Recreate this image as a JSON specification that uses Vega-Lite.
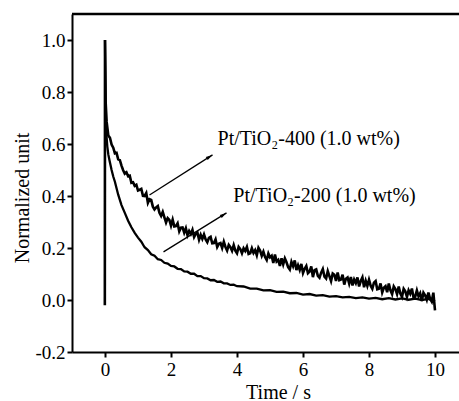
{
  "$schema": "https://vega.github.io/schema/vega-lite/v6.json",
  "width": 387,
  "height": 338,
  "autosize": {"type": "none"},
  "padding": {"left": 72, "top": 14, "right": 0, "bottom": 49},
  "background": "white",
  "config": {
    "font": "Liberation Serif",
    "view": {"stroke": null},
    "axis": {"labelColor": "black", "tickColor": "black", "domainColor": "black", "titleColor": "black", "grid": false, "labelFont": "Liberation Serif", "titleFont": "Liberation Serif", "titleFontWeight": "normal"}
  },
  "datasets": {
    "s400": [
      {"t": -0.005, "v": -0.02}, {"t": 0, "v": 1.0}, {"t": 0.02, "v": 0.76},
      {"t": 0.05, "v": 0.685}, {"t": 0.10, "v": 0.633}, {"t": 0.15, "v": 0.624}, {"t": 0.20, "v": 0.598}, {"t": 0.25, "v": 0.586},
      {"t": 0.30, "v": 0.564}, {"t": 0.35, "v": 0.566}, {"t": 0.40, "v": 0.541}, {"t": 0.45, "v": 0.538}, {"t": 0.50, "v": 0.517},
      {"t": 0.55, "v": 0.499}, {"t": 0.60, "v": 0.486}, {"t": 0.65, "v": 0.491}, {"t": 0.70, "v": 0.476}, {"t": 0.75, "v": 0.478},
      {"t": 0.80, "v": 0.451}, {"t": 0.85, "v": 0.453}, {"t": 0.90, "v": 0.439}, {"t": 0.95, "v": 0.443}, {"t": 1.00, "v": 0.421},
      {"t": 1.05, "v": 0.424}, {"t": 1.10, "v": 0.427}, {"t": 1.15, "v": 0.401}, {"t": 1.20, "v": 0.40}, {"t": 1.25, "v": 0.411},
      {"t": 1.30, "v": 0.374}, {"t": 1.35, "v": 0.388}, {"t": 1.40, "v": 0.385}, {"t": 1.45, "v": 0.359}, {"t": 1.50, "v": 0.348},
      {"t": 1.55, "v": 0.356}, {"t": 1.60, "v": 0.361}, {"t": 1.65, "v": 0.335}, {"t": 1.70, "v": 0.323}, {"t": 1.75, "v": 0.339},
      {"t": 1.80, "v": 0.318}, {"t": 1.85, "v": 0.298}, {"t": 1.90, "v": 0.315}, {"t": 1.95, "v": 0.308}, {"t": 2.00, "v": 0.286},
      {"t": 2.05, "v": 0.309}, {"t": 2.10, "v": 0.283}, {"t": 2.15, "v": 0.284}, {"t": 2.20, "v": 0.295}, {"t": 2.25, "v": 0.264},
      {"t": 2.30, "v": 0.278}, {"t": 2.35, "v": 0.279}, {"t": 2.40, "v": 0.259}, {"t": 2.45, "v": 0.276}, {"t": 2.50, "v": 0.249},
      {"t": 2.55, "v": 0.265}, {"t": 2.60, "v": 0.254}, {"t": 2.65, "v": 0.27}, {"t": 2.70, "v": 0.242}, {"t": 2.75, "v": 0.254},
      {"t": 2.80, "v": 0.26}, {"t": 2.85, "v": 0.232}, {"t": 2.90, "v": 0.251}, {"t": 2.95, "v": 0.235}, {"t": 3.00, "v": 0.252},
      {"t": 3.05, "v": 0.233}, {"t": 3.10, "v": 0.222}, {"t": 3.15, "v": 0.239}, {"t": 3.20, "v": 0.243}, {"t": 3.25, "v": 0.218},
      {"t": 3.30, "v": 0.219}, {"t": 3.35, "v": 0.233}, {"t": 3.40, "v": 0.204}, {"t": 3.45, "v": 0.216}, {"t": 3.50, "v": 0.219},
      {"t": 3.55, "v": 0.20}, {"t": 3.60, "v": 0.224}, {"t": 3.65, "v": 0.204}, {"t": 3.70, "v": 0.19}, {"t": 3.75, "v": 0.212},
      {"t": 3.80, "v": 0.203}, {"t": 3.85, "v": 0.189}, {"t": 3.90, "v": 0.211}, {"t": 3.95, "v": 0.19}, {"t": 4.00, "v": 0.18},
      {"t": 4.05, "v": 0.204}, {"t": 4.10, "v": 0.196}, {"t": 4.15, "v": 0.18}, {"t": 4.20, "v": 0.199}, {"t": 4.25, "v": 0.189},
      {"t": 4.30, "v": 0.204}, {"t": 4.35, "v": 0.177}, {"t": 4.40, "v": 0.18}, {"t": 4.45, "v": 0.199}, {"t": 4.50, "v": 0.181},
      {"t": 4.55, "v": 0.192}, {"t": 4.60, "v": 0.172}, {"t": 4.65, "v": 0.201}, {"t": 4.70, "v": 0.19}, {"t": 4.75, "v": 0.17},
      {"t": 4.80, "v": 0.186}, {"t": 4.85, "v": 0.165}, {"t": 4.90, "v": 0.154}, {"t": 4.95, "v": 0.179}, {"t": 5.00, "v": 0.164},
      {"t": 5.05, "v": 0.17}, {"t": 5.10, "v": 0.142}, {"t": 5.15, "v": 0.175}, {"t": 5.20, "v": 0.148}, {"t": 5.25, "v": 0.154},
      {"t": 5.30, "v": 0.131}, {"t": 5.35, "v": 0.16}, {"t": 5.40, "v": 0.137}, {"t": 5.45, "v": 0.16}, {"t": 5.50, "v": 0.145},
      {"t": 5.55, "v": 0.126}, {"t": 5.60, "v": 0.117}, {"t": 5.65, "v": 0.147}, {"t": 5.70, "v": 0.13}, {"t": 5.75, "v": 0.152},
      {"t": 5.80, "v": 0.115}, {"t": 5.85, "v": 0.134}, {"t": 5.90, "v": 0.116}, {"t": 5.95, "v": 0.139}, {"t": 6.00, "v": 0.104},
      {"t": 6.05, "v": 0.12}, {"t": 6.10, "v": 0.131}, {"t": 6.15, "v": 0.103}, {"t": 6.20, "v": 0.109}, {"t": 6.25, "v": 0.129},
      {"t": 6.30, "v": 0.088}, {"t": 6.35, "v": 0.115}, {"t": 6.40, "v": 0.118}, {"t": 6.45, "v": 0.093}, {"t": 6.50, "v": 0.086},
      {"t": 6.55, "v": 0.105}, {"t": 6.60, "v": 0.119}, {"t": 6.65, "v": 0.09}, {"t": 6.70, "v": 0.083}, {"t": 6.75, "v": 0.111},
      {"t": 6.80, "v": 0.092}, {"t": 6.85, "v": 0.073}, {"t": 6.90, "v": 0.102}, {"t": 6.95, "v": 0.097}, {"t": 7.00, "v": 0.073},
      {"t": 7.05, "v": 0.106}, {"t": 7.10, "v": 0.076}, {"t": 7.15, "v": 0.079}, {"t": 7.20, "v": 0.097}, {"t": 7.25, "v": 0.059},
      {"t": 7.30, "v": 0.082}, {"t": 7.35, "v": 0.087}, {"t": 7.40, "v": 0.063}, {"t": 7.45, "v": 0.088}, {"t": 7.50, "v": 0.056},
      {"t": 7.55, "v": 0.079}, {"t": 7.60, "v": 0.065}, {"t": 7.65, "v": 0.087}, {"t": 7.70, "v": 0.052}, {"t": 7.75, "v": 0.073},
      {"t": 7.80, "v": 0.087}, {"t": 7.85, "v": 0.049}, {"t": 7.90, "v": 0.074}, {"t": 7.95, "v": 0.054}, {"t": 8.00, "v": 0.078},
      {"t": 8.05, "v": 0.055}, {"t": 8.10, "v": 0.043}, {"t": 8.15, "v": 0.067}, {"t": 8.20, "v": 0.073}, {"t": 8.25, "v": 0.041},
      {"t": 8.30, "v": 0.043}, {"t": 8.35, "v": 0.064}, {"t": 8.40, "v": 0.029}, {"t": 8.45, "v": 0.047}, {"t": 8.50, "v": 0.053},
      {"t": 8.55, "v": 0.03}, {"t": 8.60, "v": 0.063}, {"t": 8.65, "v": 0.037}, {"t": 8.70, "v": 0.022}, {"t": 8.75, "v": 0.052},
      {"t": 8.80, "v": 0.042}, {"t": 8.85, "v": 0.023}, {"t": 8.90, "v": 0.052}, {"t": 8.95, "v": 0.025}, {"t": 9.00, "v": 0.012},
      {"t": 9.05, "v": 0.043}, {"t": 9.10, "v": 0.033}, {"t": 9.15, "v": 0.012}, {"t": 9.20, "v": 0.037}, {"t": 9.25, "v": 0.024},
      {"t": 9.30, "v": 0.044}, {"t": 9.35, "v": 0.009}, {"t": 9.40, "v": 0.013}, {"t": 9.45, "v": 0.037}, {"t": 9.50, "v": 0.014},
      {"t": 9.55, "v": 0.026}, {"t": 9.60, "v": -0.004}, {"t": 9.65, "v": 0.028}, {"t": 9.70, "v": 0.018}, {"t": 9.75, "v": 0.001},
      {"t": 9.80, "v": 0.029}, {"t": 9.85, "v": 0.005}, {"t": 9.90, "v": -0.006}, {"t": 9.95, "v": 0.028}, {"t": 10.0, "v": -0.04}
    ],
    "s200": [
      {"t": 0, "v": 1.0}, {"t": 0.02, "v": 0.72}, {"t": 0.04, "v": 0.64}, {"t": 0.07, "v": 0.59}, {"t": 0.1, "v": 0.56},
      {"t": 0.14, "v": 0.535}, {"t": 0.2, "v": 0.5}, {"t": 0.25, "v": 0.475}, {"t": 0.3, "v": 0.455}, {"t": 0.35, "v": 0.43},
      {"t": 0.4, "v": 0.405}, {"t": 0.45, "v": 0.385}, {"t": 0.5, "v": 0.365}, {"t": 0.6, "v": 0.335}, {"t": 0.7, "v": 0.305},
      {"t": 0.8, "v": 0.28}, {"t": 0.9, "v": 0.258}, {"t": 1.0, "v": 0.24}, {"t": 1.1, "v": 0.224}, {"t": 1.2, "v": 0.203},
      {"t": 1.3, "v": 0.192}, {"t": 1.4, "v": 0.176}, {"t": 1.5, "v": 0.17}, {"t": 1.6, "v": 0.157}, {"t": 1.7, "v": 0.154},
      {"t": 1.8, "v": 0.143}, {"t": 1.9, "v": 0.14}, {"t": 2.0, "v": 0.131}, {"t": 2.1, "v": 0.129}, {"t": 2.2, "v": 0.12},
      {"t": 2.3, "v": 0.119}, {"t": 2.4, "v": 0.11}, {"t": 2.5, "v": 0.109}, {"t": 2.6, "v": 0.101}, {"t": 2.7, "v": 0.101},
      {"t": 2.8, "v": 0.092}, {"t": 2.9, "v": 0.092}, {"t": 3.0, "v": 0.084}, {"t": 3.1, "v": 0.083}, {"t": 3.2, "v": 0.076},
      {"t": 3.3, "v": 0.077}, {"t": 3.4, "v": 0.07}, {"t": 3.5, "v": 0.071}, {"t": 3.6, "v": 0.064}, {"t": 3.7, "v": 0.064},
      {"t": 3.8, "v": 0.058}, {"t": 3.9, "v": 0.059}, {"t": 4.0, "v": 0.053}, {"t": 4.2, "v": 0.052}, {"t": 4.4, "v": 0.044},
      {"t": 4.6, "v": 0.044}, {"t": 4.8, "v": 0.037}, {"t": 5.0, "v": 0.038}, {"t": 5.2, "v": 0.031}, {"t": 5.4, "v": 0.032},
      {"t": 5.6, "v": 0.026}, {"t": 5.8, "v": 0.027}, {"t": 6.0, "v": 0.021}, {"t": 6.2, "v": 0.023}, {"t": 6.4, "v": 0.017},
      {"t": 6.6, "v": 0.019}, {"t": 6.8, "v": 0.013}, {"t": 7.0, "v": 0.015}, {"t": 7.2, "v": 0.01}, {"t": 7.4, "v": 0.012},
      {"t": 7.6, "v": 0.007}, {"t": 7.8, "v": 0.01}, {"t": 8.0, "v": 0.005}, {"t": 8.2, "v": 0.008}, {"t": 8.4, "v": 0.003},
      {"t": 8.6, "v": 0.007}, {"t": 8.8, "v": 0.002}, {"t": 9.0, "v": 0.006}, {"t": 9.2, "v": 0.001}, {"t": 9.4, "v": 0.005},
      {"t": 9.6, "v": 0.0}, {"t": 9.8, "v": 0.004}, {"t": 10.0, "v": -0.005}
    ],
    "arrows": [
      {"t": 1.348, "v": 0.404, "t2": 3.258, "v2": 0.558},
      {"t": 1.773, "v": 0.185, "t2": 3.682, "v2": 0.335}
    ],
    "labels": [
      {"t": 3.41, "v": 0.596, "text": "Pt/TiO₂-400 (1.0 wt%)"},
      {"t": 3.89, "v": 0.377, "text": "Pt/TiO₂-200 (1.0 wt%)"}
    ]
  },
  "layer": [
    {
      "data": {"name": "s400"},
      "mark": {"type": "line", "stroke": "black", "strokeWidth": 2.6, "strokeJoin": "miter", "clip": true},
      "encoding": {
        "x": {
          "field": "t", "type": "quantitative",
          "scale": {"domain": [-1, 10.727], "nice": false, "zero": false},
          "axis": {
            "title": "Time / s", "titleFont": "Liberation Serif", "titleFontSize": 20, "titleFontWeight": "normal", "titleX": 206, "titleY": 46, "titleBaseline": "alphabetic",
            "values": [0, 1, 2, 3, 4, 5, 6, 7, 8, 9, 10],
            "labelExpr": "datum.value % 2 == 0 ? format(datum.value, 'd') : ''",
            "labelFont": "Liberation Serif", "labelFontSize": 19, "labelPadding": 3, "labelFlush": false,
            "domainWidth": 2, "tickWidth": 2,
            "tickSize": {"condition": {"test": "datum.value % 2 == 0", "value": 5}, "value": 3}
          }
        },
        "y": {
          "field": "v", "type": "quantitative",
          "scale": {"domain": [-0.2, 1.1], "nice": false, "zero": false},
          "axis": {
            "title": "Normalized unit", "titleFont": "Liberation Serif", "titleFontSize": 20, "titleFontWeight": "normal", "titleX": -44, "titleY": 183.5, "titleBaseline": "alphabetic", "titleAngle": -90,
            "values": [-0.2, -0.1, 0, 0.1, 0.2, 0.3, 0.4, 0.5, 0.6, 0.7, 0.8, 0.9, 1.0],
            "labelExpr": "abs(round(datum.value * 10)) % 2 == 0 ? replace(format(datum.value, '.1f'), '−', '-') : ''",
            "labelFont": "Liberation Serif", "labelFontSize": 19, "labelPadding": 2, "labelFlush": false,
            "domainWidth": 2, "tickWidth": 2,
            "tickSize": {"condition": {"test": "abs(round(datum.value * 10)) % 2 == 0", "value": 5}, "value": 3}
          }
        }
      }
    },
    {
      "data": {"name": "s200"},
      "mark": {"type": "line", "stroke": "black", "strokeWidth": 2.3, "clip": true},
      "encoding": {
        "x": {"field": "t", "type": "quantitative"},
        "y": {"field": "v", "type": "quantitative"}
      }
    },
    {
      "data": {"values": [{"v": 1.1}]},
      "mark": {"type": "rule", "stroke": "black", "strokeWidth": 2.5},
      "encoding": {"y": {"field": "v", "type": "quantitative"}}
    },
    {
      "data": {"name": "arrows"},
      "mark": {"type": "rule", "stroke": "black", "strokeWidth": 1.3},
      "encoding": {
        "x": {"field": "t", "type": "quantitative"},
        "y": {"field": "v", "type": "quantitative"},
        "x2": {"field": "t2"},
        "y2": {"field": "v2"}
      }
    },
    {
      "data": {"name": "arrows"},
      "mark": {"type": "point", "shape": "M0,0L0.45,1.7L-0.45,1.7Z", "filled": true, "fill": "black", "stroke": null, "size": 64, "angle": 58, "opacity": 1},
      "encoding": {
        "x": {"field": "t2", "type": "quantitative"},
        "y": {"field": "v2", "type": "quantitative"}
      }
    },
    {
      "data": {"name": "labels"},
      "mark": {"type": "text", "align": "left", "baseline": "alphabetic", "font": "Liberation Serif", "fontSize": 20, "color": "black"},
      "encoding": {
        "x": {"field": "t", "type": "quantitative"},
        "y": {"field": "v", "type": "quantitative"},
        "text": {"field": "text"}
      }
    }
  ]
}
